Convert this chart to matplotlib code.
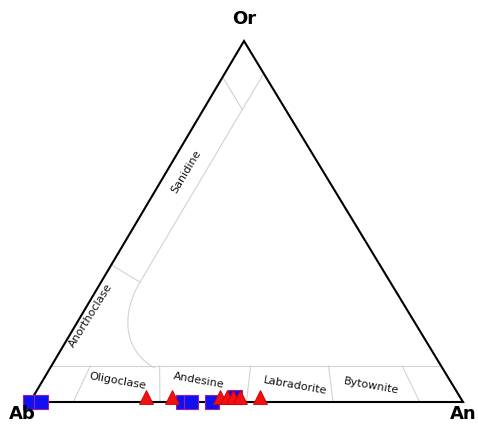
import matplotlib
matplotlib.use("Agg")
import matplotlib.pyplot as plt
from matplotlib.path import Path
from matplotlib.patches import PathPatch

# ---- data (An %, Or %; Ab = 100 - An - Or) ----
sq_an = [0.0, 2.5, 35.3, 37.2, 42.0, 46.5]
sq_or = [0.0, 0.0, 0.0, 0.0, 0.0, 1.5]
tri_an = [26.0, 32.0, 43.1, 44.7, 46.1, 47.7, 52.3]
tri_or = [1.5, 1.5, 1.5, 1.5, 1.5, 1.5, 1.5]

# field boundaries (An %, Or %)
div_bottom_an = [10, 30, 50, 70, 90]
div_top_an = [9, 25, 46, 64, 81]
or_line = 10
kf_line = [(9, 91), (9, 33.2)]          # constant-An line from An-Or edge
top_tick = [(0, 90), (9, 81)]
ano_tick = [(0, 38), (9, 33.2)]
curve_ctrl = [(9, 33.2), (8.9, 24.9), (14.1, 14.4), (24.2, 9.4)]

field_names = ["Oligoclase", "Andesine", "Labradorite", "Bytownite"]

# layout: pixel positions of the vertices
AB = (30, 402)
AN = (463, 402)
OR = (244, 41)


def tern(an, orr):
    ab = 100 - an - orr
    x = (AB[0] * ab + AN[0] * an + OR[0] * orr) / 100
    y = (AB[1] * ab + AN[1] * an + OR[1] * orr) / 100
    return x, y


fig = plt.figure(figsize=(4.78, 4.25), dpi=100)
ax = fig.add_axes([0, 0, 1, 1])
ax.set_xlim(0, 478)
ax.set_ylim(425, 0)
ax.axis("off")

gray = "#d2d2d2"
glw = 0.8

# Or = 10 line
x0, y0 = tern(0, or_line)
x1, y1 = tern(100 - or_line, or_line)
ax.plot([x0, x1], [y0, y1], color=gray, lw=glw, zorder=1)

# plagioclase dividers
for b, t in zip(div_bottom_an, div_top_an):
    xa, ya = tern(b, 0)
    xb, yb = tern(t, or_line)
    ax.plot([xa, xb], [ya, yb], color=gray, lw=glw, zorder=1)

for seg in (kf_line, top_tick, ano_tick):
    xs, ys = zip(*[tern(a, o) for a, o in seg])
    ax.plot(xs, ys, color=gray, lw=glw, zorder=1)

verts = [tern(a, o) for a, o in curve_ctrl]
path = Path(verts, [Path.MOVETO, Path.CURVE4, Path.CURVE4, Path.CURVE4])
ax.add_patch(PathPatch(path, fill=False, edgecolor=gray, lw=glw, zorder=1))

# outline
tx, ty = zip(*[AB, AN, OR, AB])
ax.plot(tx, ty, color="black", lw=1.5, zorder=2, solid_joinstyle="miter")

# points
sx, sy = zip(*[tern(a, o) for a, o in zip(sq_an, sq_or)])
ax.plot(sx, sy, "s", ms=10.5, mfc="#1010f0", mec="#9a1fb0", mew=0.8, zorder=3)
rx, ry = zip(*[tern(a, o) for a, o in zip(tri_an, tri_or)])
ax.plot(rx, ry, "^", ms=9.5, mfc="#f01010", mec="#d00000", mew=0.6, zorder=4)

# labels
bold = dict(fontsize=13, fontweight="bold", color="black", va="center")
ax.text(244, 19, "Or", ha="center", **bold)
ax.text(22, 414, "Ab", ha="center", **bold)
ax.text(477, 414, "An", ha="right", **bold)

lab = dict(fontsize=8, color="#111111", ha="center", va="center")
label_xy = [(118, 381), (199, 381), (295, 386), (371, 386)]
for name, (lx, ly) in zip(field_names, label_xy):
    ax.text(lx, ly, name, rotation=-10, rotation_mode="anchor", **lab)
ax.text(186, 172, "Sanidine", rotation=59, rotation_mode="anchor", **lab)
ax.text(91, 315, "Anorthoclase", rotation=58, rotation_mode="anchor", **lab)

fig.savefig("out.png", dpi=100)
